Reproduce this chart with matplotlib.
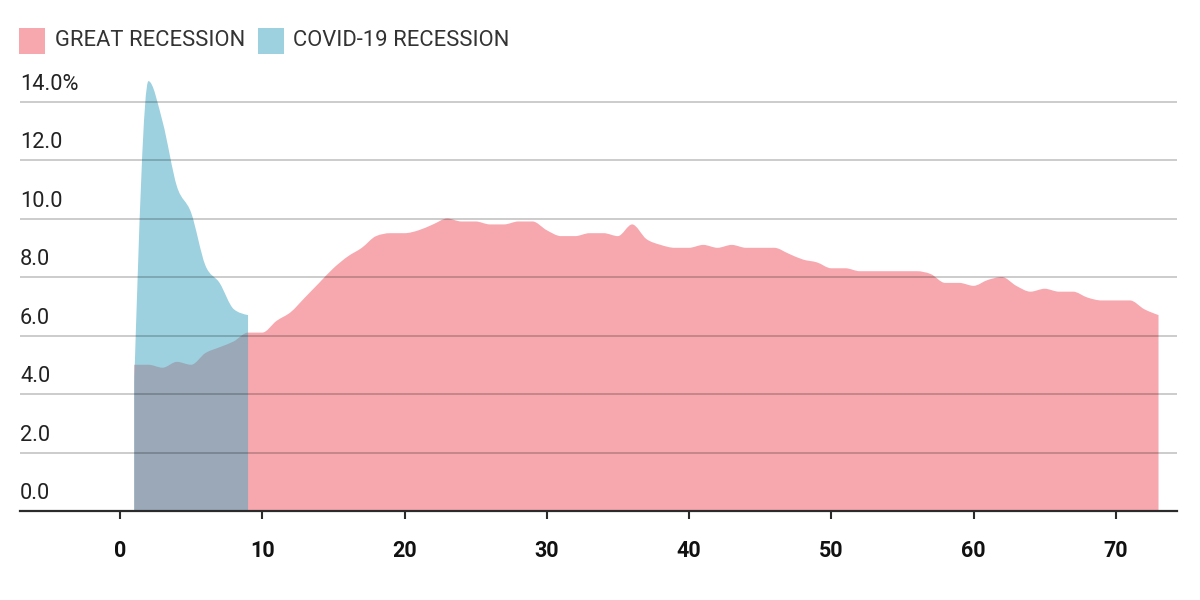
import numpy as np
import matplotlib
matplotlib.use('Agg')
import matplotlib.pyplot as plt
from matplotlib.path import Path
from matplotlib.patches import PathPatch, Rectangle

# months since start of recession
great_x = list(range(1, 74))
great_rate = [5.0, 5.0, 4.9, 5.1, 5.0, 5.4, 5.6, 5.8, 6.1, 6.1,
              6.5, 6.8, 7.3, 7.8, 8.3, 8.7, 9.0, 9.4, 9.5, 9.5,
              9.6, 9.8, 10.0, 9.9, 9.9, 9.8, 9.8, 9.9, 9.9, 9.6,
              9.4, 9.4, 9.5, 9.5, 9.4, 9.8, 9.3, 9.1, 9.0, 9.0,
              9.1, 9.0, 9.1, 9.0, 9.0, 9.0, 8.8, 8.6, 8.5, 8.3,
              8.3, 8.2, 8.2, 8.2, 8.2, 8.2, 8.1, 7.8, 7.8, 7.7,
              7.9, 8.0, 7.7, 7.5, 7.6, 7.5, 7.5, 7.3, 7.2, 7.2,
              7.2, 6.9, 6.7]
covid_x = list(range(1, 10))
covid_rate = [4.4, 14.7, 13.3, 11.1, 10.2, 8.4, 7.8, 6.9, 6.7]

y_ticks = [0, 2, 4, 6, 8, 10, 12, 14]
y_labels = ['0.0', '2.0', '4.0', '6.0', '8.0', '10.0', '12.0', '14.0%']
x_ticks = [0, 10, 20, 30, 40, 50, 60, 70]

PINK = '#f7a8ae'
BLUE = '#9dd1df'
OVERLAP = '#9aa8b8'
DARK = '#2b2b2b'
FONT = 'Roboto'


def sgn(v):
    return -1.0 if v < 0 else 1.0


def area_path(xs, ys):
    # monotone cubic area down to zero (like d3 curveMonotoneX)
    xs = np.asarray(xs, float)
    ys = np.asarray(ys, float)
    n = len(xs)
    s = np.diff(ys) / np.diff(xs)
    m = np.zeros(n)
    for i in range(1, n - 1):
        h0 = xs[i] - xs[i - 1]
        h1 = xs[i + 1] - xs[i]
        p = (s[i - 1] * h1 + s[i] * h0) / (h0 + h1)
        m[i] = (sgn(s[i - 1]) + sgn(s[i])) * min(abs(s[i - 1]), abs(s[i]), 0.5 * abs(p))
    m[0] = (3 * s[0] - m[1]) / 2
    m[-1] = (3 * s[-1] - m[-2]) / 2
    verts = [(xs[0], 0), (xs[0], ys[0])]
    codes = [Path.MOVETO, Path.LINETO]
    for i in range(n - 1):
        dx = (xs[i + 1] - xs[i]) / 3
        verts += [(xs[i] + dx, ys[i] + dx * m[i]),
                  (xs[i + 1] - dx, ys[i + 1] - dx * m[i + 1]),
                  (xs[i + 1], ys[i + 1])]
        codes += [Path.CURVE4] * 3
    verts += [(xs[-1], 0), (xs[0], 0)]
    codes += [Path.LINETO, Path.CLOSEPOLY]
    return Path(verts, codes)


fig = plt.figure(figsize=(12, 6), dpi=100)
ax = fig.add_axes([20 / 1200, 89 / 600, 1157 / 1200, 441 / 600])
ax.set_xlim(-7.03, 74.3)
ax.set_ylim(0, 15.08)

red_path = area_path(great_x, great_rate)
blue_path = area_path(covid_x, covid_rate)

ax.add_patch(PathPatch(red_path, fc=PINK, ec='none', zorder=1))
blue_patch = PathPatch(blue_path, fc=BLUE, ec='none', zorder=2)
ax.add_patch(blue_patch)
overlap = PathPatch(red_path, fc=OVERLAP, ec='none', zorder=3)
ax.add_patch(overlap)
overlap.set_clip_path(blue_patch)

# gridlines and y labels
for y, lab in zip(y_ticks, y_labels):
    if y > 0:
        ax.axhline(y, color='black', alpha=0.2, lw=1.4, zorder=4)
    ax.text(0, y + 0.4, lab, transform=ax.get_yaxis_transform(),
            ha='left', va='baseline', fontsize=15.7, color='#222222',
            family=FONT)

for side in ['top', 'right', 'left']:
    ax.spines[side].set_visible(False)
ax.spines['bottom'].set_color(DARK)
ax.spines['bottom'].set_linewidth(1.6)
ax.spines['bottom'].set_zorder(5)

ax.set_yticks([])
ax.set_xticks(x_ticks)
ax.set_xticklabels([str(v) for v in x_ticks], fontsize=15.5, fontweight='bold',
                   family=FONT, color='#111111')
ax.tick_params(axis='x', length=6, width=1.5, color=DARK, pad=15)

# legend
fig.patches.append(Rectangle((19 / 1200, 1 - 54 / 600), 26 / 1200, 26 / 600,
                             transform=fig.transFigure, fc=PINK, ec='none'))
fig.text(55 / 1200, 1 - 41 / 600, 'GREAT RECESSION', ha='left', va='center',
         fontsize=15.8, color='#333333', family=FONT)
fig.patches.append(Rectangle((258 / 1200, 1 - 54 / 600), 26 / 1200, 26 / 600,
                             transform=fig.transFigure, fc=BLUE, ec='none'))
fig.text(293 / 1200, 1 - 41 / 600, 'COVID-19 RECESSION', ha='left', va='center',
         fontsize=15.8, color='#333333', family=FONT)

fig.savefig('out.png', dpi=100)
